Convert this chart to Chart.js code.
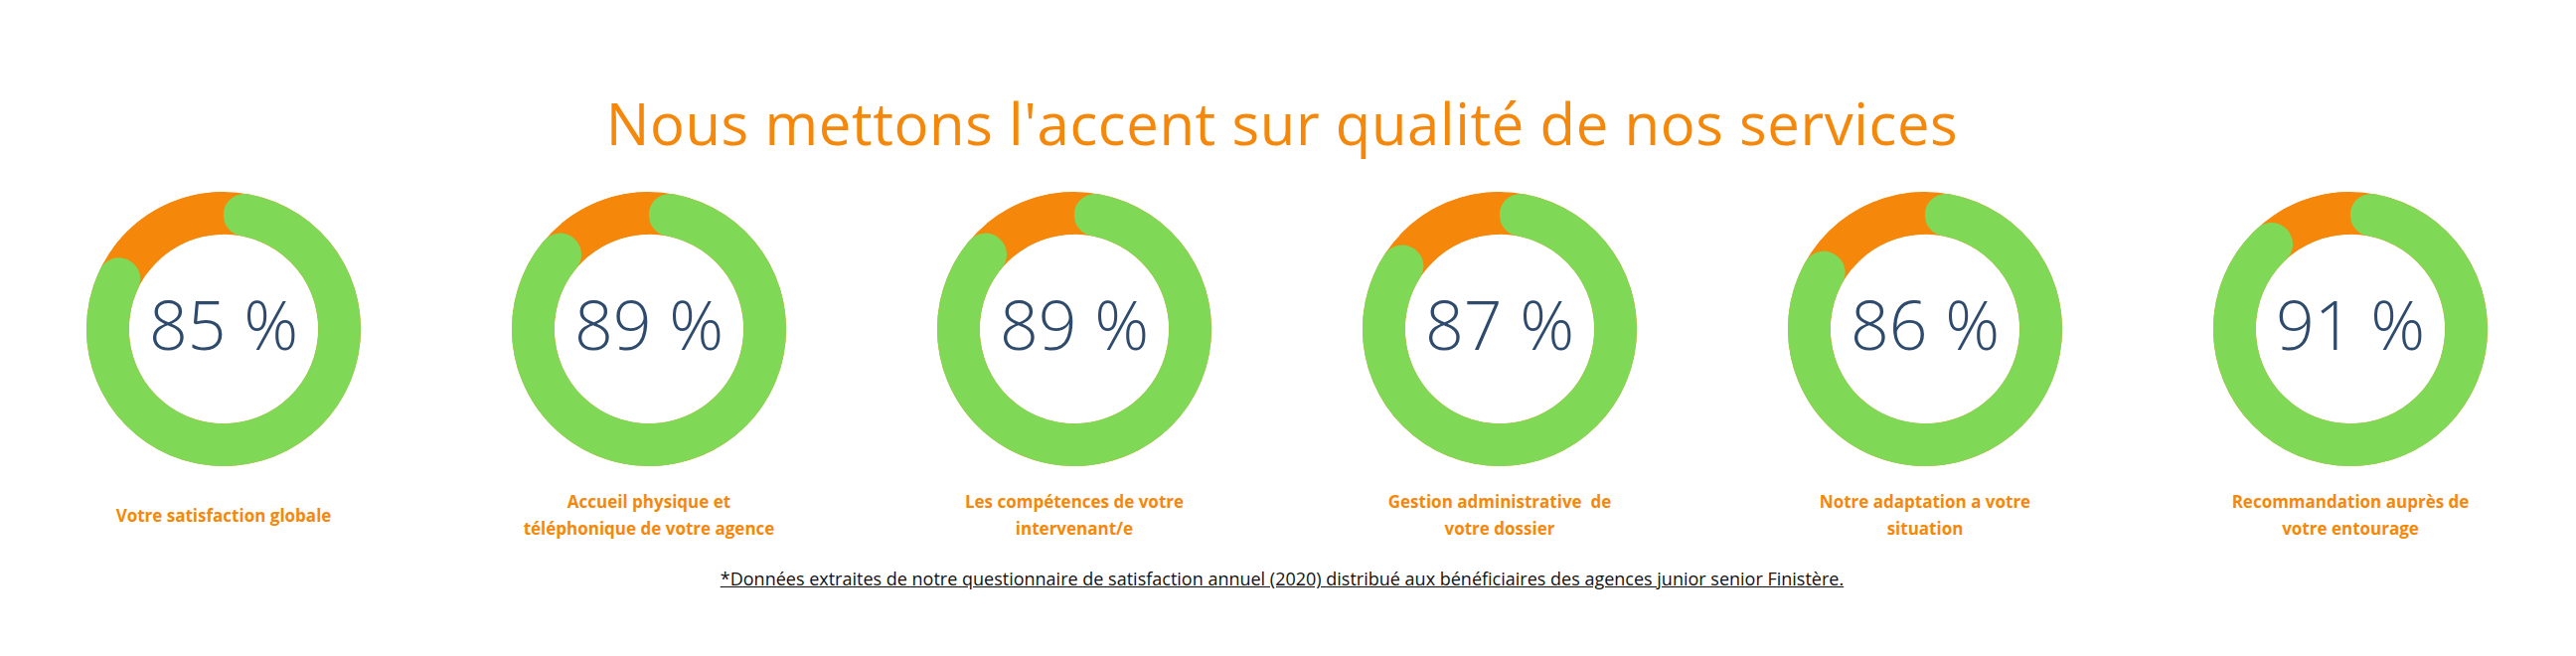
<!DOCTYPE html>
<html>
<head>
<meta charset="utf-8">
<script src="https://cdn.jsdelivr.net/npm/chart.js@4"></script>
<style>
  body { margin: 0; width: 2592px; height: 660px; background: #fff; font-family: "Open Sans", sans-serif; position: relative; overflow: hidden; }
  h1 { position: absolute; top: 84px; left: -6px; width: 2592px; margin: 0; text-align: center; font-weight: 500; font-size: 58px; color: #f5880a; letter-spacing: 0.6px; }
  .box { position: absolute; top: 193px; width: 276px; height: 276px; }
  .lbl { position: absolute; width: 380px; text-align: center; font-weight: 700; font-size: 17px; line-height: 27px; color: #f5880a; }
  .note { position: absolute; top: 570px; left: -6px; width: 2592px; text-align: center; font-size: 18px; color: #111; text-decoration: underline; }
</style>
</head>
<body>
<h1>Nous mettons l'accent sur qualité de nos services</h1>
<div class="note">*Données extraites de notre questionnaire de satisfaction annuel (2020) distribué aux bénéficiaires des agences junior senior Finistère.</div>
<script>
const categories = [
  ['Votre satisfaction globale'],
  ['Accueil physique et', 'téléphonique de votre agence'],
  ['Les compétences de votre', 'intervenant/e'],
  ['Gestion administrative  de', 'votre dossier'],
  ['Notre adaptation a votre', 'situation'],
  ['Recommandation auprès de', 'votre entourage']
];
const satisfied = [85, 89, 89, 87, 86, 91];
const centersX = [225, 653, 1081, 1509, 1937, 2365];

const GREEN = '#7fd957';
const ORANGE = '#f5880a';

const ringBackdrop = {
  id: 'ringBackdrop',
  beforeDatasetsDraw(chart) {
    const arc = chart.getDatasetMeta(0).data[0];
    const c = chart.ctx;
    c.save();
    c.beginPath();
    c.arc(arc.x, arc.y, arc.outerRadius, 0, Math.PI * 2);
    c.arc(arc.x, arc.y, arc.innerRadius, 0, Math.PI * 2, true);
    c.fillStyle = ORANGE;
    c.fill();
    c.restore();
  }
};

const centerText = {
  id: 'centerText',
  afterDraw(chart) {
    const arc = chart.getDatasetMeta(0).data[0];
    const c = chart.ctx;
    c.save();
    c.font = '300 68px "Open Sans"';
    c.fillStyle = '#2e4a6c';
    c.textAlign = 'center';
    c.textBaseline = 'middle';
    c.fillText(chart.data.datasets[0].data[1] + ' %', arc.x, arc.y + 2);
    c.restore();
  }
};

satisfied.forEach((v, i) => {
  const box = document.createElement('div');
  box.className = 'box';
  box.style.left = (centersX[i] - 138) + 'px';
  const cv = document.createElement('canvas');
  box.appendChild(cv);
  document.body.appendChild(box);

  const lbl = document.createElement('div');
  lbl.className = 'lbl';
  lbl.style.left = (centersX[i] - 190) + 'px';
  lbl.style.top = (categories[i].length === 1 ? 505 : 491) + 'px';
  lbl.innerHTML = categories[i].join('<br>').replace(/  /g, ' &nbsp;');
  document.body.appendChild(lbl);

  const rest = 100 - v;
  new Chart(cv, {
    type: 'doughnut',
    data: {
      labels: ['Autre', 'Satisfait'],
      datasets: [{
        data: [rest, v],
        backgroundColor: [ORANGE, GREEN],
        borderWidth: 0,
        borderRadius: [0, 21]
      }]
    },
    options: {
      responsive: true,
      maintainAspectRatio: false,
      animation: false,
      cutout: '69%',
      rotation: -rest * 3.6,
      plugins: { legend: { display: false }, tooltip: { enabled: false } }
    },
    plugins: [ringBackdrop, centerText]
  });
});
</script>
</body>
</html>
